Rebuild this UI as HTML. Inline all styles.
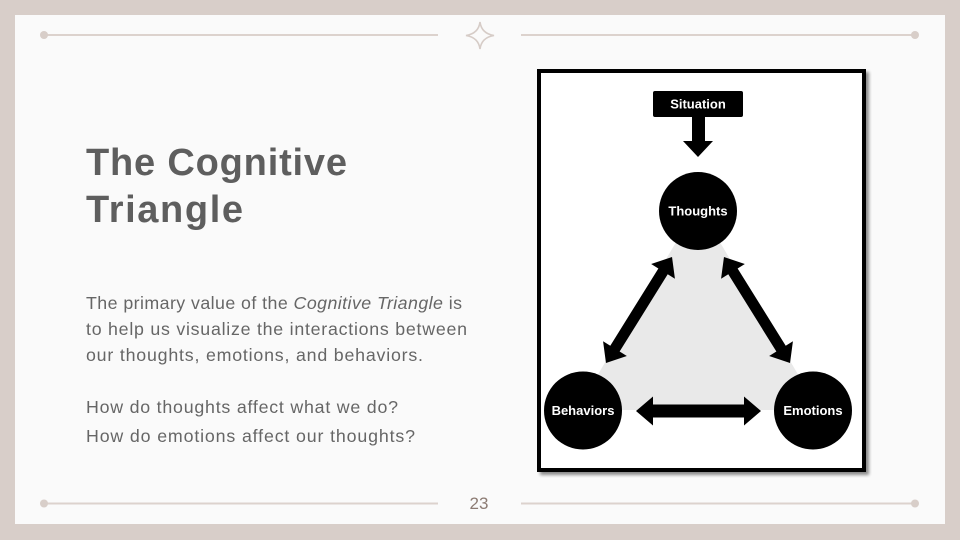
<!DOCTYPE html>
<html>
<head>
<meta charset="utf-8">
<style>
  html, body { margin:0; padding:0; }
  body { width:960px; height:540px; overflow:hidden; background:#d8cec9; }
  svg { display:block; }
</style>
</head>
<body>
<svg width="960" height="540" viewBox="0 0 960 540" xmlns="http://www.w3.org/2000/svg">
  <defs>
    <filter id="sh" x="-10%" y="-10%" width="120%" height="120%">
      <feGaussianBlur in="SourceAlpha" stdDeviation="1.5"/>
      <feOffset dx="3" dy="3" result="b"/>
      <feComponentTransfer><feFuncA type="linear" slope="0.45"/></feComponentTransfer>
      <feMerge><feMergeNode/><feMergeNode in="SourceGraphic"/></feMerge>
    </filter>
  </defs>
  <!-- background -->
  <rect x="0" y="0" width="960" height="540" fill="#d8cec9"/>
  <rect x="15" y="15" width="930" height="509" fill="#fafafa"/>

  <!-- top decoration -->
  <line x1="44" y1="35" x2="438" y2="35" stroke="#dcd2cd" stroke-width="2"/>
  <line x1="521" y1="35" x2="915" y2="35" stroke="#dcd2cd" stroke-width="2"/>
  <circle cx="44" cy="35" r="4" fill="#d8cec9"/>
  <circle cx="915" cy="35" r="4" fill="#d8cec9"/>
  <path d="M480,22 Q481.5,33.5 494,35.5 Q481.5,37.5 480,49 Q478.5,37.5 466,35.5 Q478.5,33.5 480,22 Z" fill="none" stroke="#d6ccc7" stroke-width="1.6"/>

  <!-- bottom decoration -->
  <line x1="44" y1="503.5" x2="438" y2="503.5" stroke="#dcd2cd" stroke-width="2"/>
  <line x1="521" y1="503.5" x2="915" y2="503.5" stroke="#dcd2cd" stroke-width="2"/>
  <circle cx="44" cy="503.5" r="4" fill="#d8cec9"/>
  <circle cx="915" cy="503.5" r="4" fill="#d8cec9"/>
  <text x="479" y="509" text-anchor="middle" font-family="Liberation Sans, sans-serif" font-size="17" fill="#8c7b73">23</text>

  <!-- title -->
  <g font-family="Liberation Sans, sans-serif" font-weight="bold" font-size="38" fill="#5e5e5e">
    <text x="86" y="175" textLength="261" lengthAdjust="spacing">The Cognitive</text>
    <text x="86" y="222" textLength="157" lengthAdjust="spacing">Triangle</text>
  </g>

  <!-- body text -->
  <g font-family="Liberation Sans, sans-serif" font-size="17.8" fill="#666666">
    <text x="86" y="309" textLength="376" lengthAdjust="spacing">The primary value of the <tspan font-style="italic">Cognitive Triangle</tspan> is</text>
    <text x="86" y="335" textLength="381" lengthAdjust="spacing">to help us visualize the interactions between</text>
    <text x="86" y="361" textLength="337" lengthAdjust="spacing">our thoughts, emotions, and behaviors.</text>
    <text x="86" y="413" textLength="312" lengthAdjust="spacing">How do thoughts affect what we do?</text>
    <text x="86" y="442" textLength="329" lengthAdjust="spacing">How do emotions affect our thoughts?</text>
  </g>

  <!-- diagram frame -->
  <g filter="url(#sh)">
    <rect x="539" y="71" width="325" height="399" fill="#ffffff" stroke="#000" stroke-width="4"/>
  </g>

  <!-- grey triangle -->
  <polygon points="698,205 577,410 819,410" fill="#e9e9e9"/>

  <!-- situation box -->
  <rect x="653" y="91" width="90" height="26" rx="2" fill="#000"/>
  <text x="698" y="108.5" text-anchor="middle" font-family="Liberation Sans, sans-serif" font-weight="bold" font-size="13" fill="#fff">Situation</text>
  <polygon points="692,116 705,116 705,141 713,141 698,157 683,141 692,141" fill="#000"/>

  <!-- circles -->
  <circle cx="698" cy="211" r="39" fill="#000"/>
  <circle cx="583" cy="410.5" r="39" fill="#000"/>
  <circle cx="813" cy="410.5" r="39" fill="#000"/>
  <g font-family="Liberation Sans, sans-serif" font-weight="bold" font-size="13" fill="#fff" text-anchor="middle">
    <text x="698" y="215.5">Thoughts</text>
    <text x="583" y="415">Behaviors</text>
    <text x="813" y="415">Emotions</text>
  </g>

  <!-- arrows -->
  <g fill="#000">
    <polygon transform="translate(698.5,411)" points="-62.5,0 -45.5,-14.5 -45.5,-6.5 45.5,-6.5 45.5,-14.5 62.5,0 45.5,14.5 45.5,6.5 -45.5,6.5 -45.5,14.5"/>
    <polygon transform="translate(639,310) rotate(121.9)" points="-62.5,0 -45.5,-14 -45.5,-5.5 45.5,-5.5 45.5,-14 62.5,0 45.5,14 45.5,5.5 -45.5,5.5 -45.5,14"/>
    <polygon transform="translate(757,310) rotate(58.1)" points="-62.5,0 -45.5,-14 -45.5,-5.5 45.5,-5.5 45.5,-14 62.5,0 45.5,14 45.5,5.5 -45.5,5.5 -45.5,14"/>
  </g>
</svg>
</body>
</html>
